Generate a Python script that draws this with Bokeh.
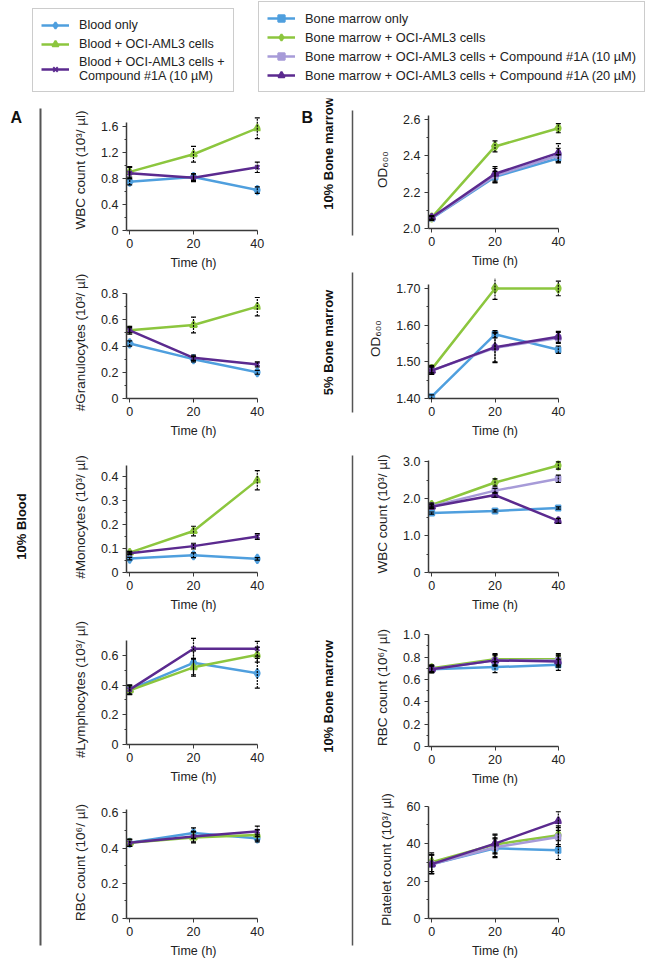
import numpy as np
from bokeh.plotting import figure
from bokeh.models import Range1d, FixedTicker, Whisker, TeeHead, ColumnDataSource, Legend, LegendItem
from bokeh.layouts import row, column
from bokeh.embed import file_html
from bokeh.resources import INLINE
from bokeh.core.properties import value

FONT = "Liberation Sans"

# ---------------- data ----------------
time_h = [0, 20, 40]
x_ticks = [0, 20, 40]
time_label = "Time (h)"

# Panel A (10% blood)
a_names = ["Blood only", "Blood + OCI-AML3 cells", "Blood + OCI-AML3 cells +\nCompound #1A (10 µM)"]
a_colors = ["#4f9fde", "#8cc63e", "#5b2a8f"]
a_markers = ["diamond", "triangle", "x"]

a_wbc_blood = [0.75, 0.82, 0.62]
a_wbc_oci = [0.90, 1.17, 1.57]
a_wbc_cmpd = [0.88, 0.81, 0.97]
a_wbc_err_blood = [0.05, 0.05, 0.05]
a_wbc_err_oci = [0.08, 0.12, 0.16]
a_wbc_err_cmpd = [0.09, 0.06, 0.08]

a_gran_blood = [0.42, 0.30, 0.20]
a_gran_oci = [0.52, 0.56, 0.70]
a_gran_cmpd = [0.52, 0.31, 0.26]
a_gran_err_blood = [0.02, 0.02, 0.015]
a_gran_err_oci = [0.02, 0.06, 0.07]
a_gran_err_cmpd = [0.03, 0.02, 0.02]

a_mono_blood = [0.058, 0.072, 0.057]
a_mono_oci = [0.083, 0.173, 0.385]
a_mono_cmpd = [0.080, 0.110, 0.150]
a_mono_err_blood = [0.005, 0.01, 0.005]
a_mono_err_oci = [0.005, 0.02, 0.04]
a_mono_err_cmpd = [0.005, 0.012, 0.012]

a_lymph_blood = [0.37, 0.55, 0.48]
a_lymph_oci = [0.365, 0.52, 0.605]
a_lymph_cmpd = [0.37, 0.645, 0.645]
a_lymph_err_blood = [0.03, 0.08, 0.10]
a_lymph_err_oci = [0.03, 0.06, 0.05]
a_lymph_err_cmpd = [0.03, 0.07, 0.05]

a_rbc_blood = [0.43, 0.485, 0.455]
a_rbc_oci = [0.43, 0.46, 0.475]
a_rbc_cmpd = [0.43, 0.465, 0.495]
a_rbc_err_blood = [0.02, 0.03, 0.02]
a_rbc_err_oci = [0.02, 0.03, 0.03]
a_rbc_err_cmpd = [0.02, 0.03, 0.03]

# Panel B (bone marrow)
b_names = ["Bone marrow only", "Bone marrow + OCI-AML3 cells",
           "Bone marrow + OCI-AML3 cells + Compound #1A (10 µM)",
           "Bone marrow + OCI-AML3 cells + Compound #1A (20 µM)"]
b_colors = ["#4f9fde", "#8cc63e", "#a79bd8", "#5b2a8f"]
b_markers = ["square", "diamond", "square", "triangle"]

b_od10_bm = [2.055, 2.283, 2.385]
b_od10_oci = [2.06, 2.45, 2.55]
b_od10_c10 = [2.058, 2.29, 2.40]
b_od10_c20 = [2.06, 2.30, 2.415]
b_od10_err_bm = [0.01, 0.03, 0.02]
b_od10_err_oci = [0.01, 0.03, 0.025]
b_od10_err_c10 = [0.01, 0.04, 0.04]
b_od10_err_c20 = [0.01, 0.04, 0.05]

b_od5_bm = [1.405, 1.575, 1.533]
b_od5_oci = [1.48, 1.70, 1.70]
b_od5_c10 = [1.476, 1.538, 1.565]
b_od5_c20 = [1.476, 1.54, 1.568]
b_od5_err_bm = [0.005, 0.01, 0.01]
b_od5_err_oci = [0.01, 0.03, 0.02]
b_od5_err_c10 = [0.01, 0.04, 0.015]
b_od5_err_c20 = [0.01, 0.04, 0.015]

b_wbc_bm = [1.61, 1.67, 1.75]
b_wbc_oci = [1.83, 2.44, 2.90]
b_wbc_c10 = [1.80, 2.22, 2.54]
b_wbc_c20 = [1.78, 2.10, 1.40]
b_wbc_err_bm = [0.03, 0.03, 0.03]
b_wbc_err_oci = [0.05, 0.10, 0.10]
b_wbc_err_c10 = [0.05, 0.06, 0.10]
b_wbc_err_c20 = [0.05, 0.06, 0.07]

b_rbc_bm = [0.69, 0.71, 0.73]
b_rbc_oci = [0.70, 0.78, 0.78]
b_rbc_c10 = [0.69, 0.77, 0.77]
b_rbc_c20 = [0.69, 0.77, 0.76]
b_rbc_err_bm = [0.03, 0.05, 0.05]
b_rbc_err_oci = [0.03, 0.05, 0.05]
b_rbc_err_c10 = [0.03, 0.05, 0.05]
b_rbc_err_c20 = [0.03, 0.05, 0.05]

b_plt_bm = [29, 37.5, 36.5]
b_plt_oci = [30, 39.5, 44.5]
b_plt_c10 = [29, 38, 43.5]
b_plt_c20 = [29, 40, 52]
b_plt_err_bm = [5, 5, 5]
b_plt_err_oci = [5, 5, 5]
b_plt_err_c10 = [5, 5, 5]
b_plt_err_c20 = [5, 5, 5]

# tick values / labels
a_wbc_ticks = [0, 0.4, 0.8, 1.2, 1.6]
a_wbc_labels = ["0", "0.4", "0.8", "1.2", "1.6"]
a_gran_ticks = [0, 0.2, 0.4, 0.6, 0.8]
a_gran_labels = ["0", "0.2", "0.4", "0.6", "0.8"]
a_mono_ticks = [0, 0.1, 0.2, 0.3, 0.4]
a_mono_labels = ["0", "0.1", "0.2", "0.3", "0.4"]
a_lymph_ticks = [0, 0.2, 0.4, 0.6]
a_lymph_labels = ["0", "0.2", "0.4", "0.6"]
a_rbc_ticks = [0, 0.2, 0.4, 0.6]
a_rbc_labels = ["0", "0.2", "0.4", "0.6"]
b_od10_ticks = [2.0, 2.2, 2.4, 2.6]
b_od10_labels = ["2.0", "2.2", "2.4", "2.6"]
b_od5_ticks = [1.40, 1.50, 1.60, 1.70]
b_od5_labels = ["1.40", "1.50", "1.60", "1.70"]
b_wbc_ticks = [0, 1, 2, 3]
b_wbc_labels = ["0", "1.0", "2.0", "3.0"]
b_rbc_ticks = [0, 0.2, 0.4, 0.6, 0.8, 1.0]
b_rbc_labels = ["0", "0.2", "0.4", "0.6", "0.8", "1.0"]
b_plt_ticks = [0, 20, 40, 60]
b_plt_labels = ["0", "20", "40", "60"]

# ---------------- helpers ----------------
AXIS_COLOR = "#3a3a3a"
MARKER_SIZE = {"diamond": 9, "triangle": 7, "x": 6, "square": 5}


def minor_of(ticks):
    return [(a + b) / 2 for a, b in zip(ticks[:-1], ticks[1:])]


def make_plot(ylabel, ys, errs, colors, markers, ticks, labels, y0, y1, axis_top,
              width, height, mbl, mbr, mbt, mbb):
    p = figure(width=width, height=height, x_range=Range1d(-1, 41), y_range=Range1d(y0, y1),
               output_backend="svg", toolbar_location=None,
               min_border_left=mbl, min_border_right=mbr, min_border_top=mbt, min_border_bottom=mbb)
    p.outline_line_color = None
    p.xgrid.visible = False
    p.ygrid.visible = False
    for y, e, c, m in zip(ys, errs, colors, markers):
        p.line(time_h, y, line_color=c, line_width=2.5)
        p.scatter(time_h, y, marker=m, size=MARKER_SIZE[m], fill_color=c, line_color=c, line_width=2)
        src = ColumnDataSource(dict(x=time_h, upper=[a + b for a, b in zip(y, e)],
                                    lower=[a - b for a, b in zip(y, e)]))
        w = Whisker(base="x", upper="upper", lower="lower", source=src, level="overlay",
                    line_color="black", line_width=1.2, line_dash="2 1",
                    upper_head=TeeHead(size=5, line_color="black", line_width=1.2),
                    lower_head=TeeHead(size=5, line_color="black", line_width=1.2))
        p.add_layout(w)
    for ax in (p.xaxis[0], p.yaxis[0]):
        ax.axis_line_color = AXIS_COLOR
        ax.axis_line_width = 1.5
        ax.major_tick_line_color = AXIS_COLOR
        ax.minor_tick_line_color = AXIS_COLOR
        ax.major_tick_out = 4
        ax.major_tick_in = 0
        ax.minor_tick_out = 2
        ax.minor_tick_in = 0
        ax.major_label_text_font = FONT
        ax.major_label_text_font_size = "12.5px"
        ax.major_label_text_color = "#222222"
        ax.major_label_standoff = 4
        ax.axis_label_text_font = FONT
        ax.axis_label_text_font_style = "normal"
        ax.axis_label_text_color = "#222222"
    xa = p.xaxis[0]
    xa.ticker = FixedTicker(ticks=x_ticks)
    xa.bounds = (-1, 40)
    xa.axis_label = time_label
    xa.axis_label_text_font_size = "12.5px"
    xa.axis_label_standoff = 5
    ya = p.yaxis[0]
    ya.ticker = FixedTicker(ticks=ticks, minor_ticks=minor_of(ticks))
    ya.major_label_overrides = {t: l for t, l in zip(ticks, labels)}
    ya.bounds = (y0, axis_top)
    ya.axis_label = ylabel
    ya.axis_label_text_font_size = "13.5px"
    ya.axis_label_standoff = 10
    return p


def decor(width, height, texts, lines):
    p = figure(width=width, height=height, x_range=Range1d(0, width), y_range=Range1d(0, height),
               min_border=0, x_axis_location=None, y_axis_location=None,
               output_backend="svg", toolbar_location=None)
    p.outline_line_color = None
    p.xgrid.visible = False
    p.ygrid.visible = False
    for (x, y, t, size, rot, align) in texts:
        p.text(x=[x], y=[height - y], text=[t], angle=rot, text_font=value(FONT),
               text_font_style="bold", text_font_size=size, text_align=align,
               text_baseline="middle", text_color="#111111")
    for (x, ya, yb, w) in lines:
        p.line([x, x], [height - ya, height - yb], line_color="#555555", line_width=w)
    return p


# ---------------- panel A ----------------
AW, A_MBL, A_MBR = 240, 76, 30
pa1 = make_plot("WBC count (10³/ µl)", [a_wbc_blood, a_wbc_oci, a_wbc_cmpd],
                [a_wbc_err_blood, a_wbc_err_oci, a_wbc_err_cmpd], a_colors, a_markers,
                a_wbc_ticks, a_wbc_labels, 0, 1.857, 1.66, AW, 174, A_MBL, A_MBR, 11, 40)
pa2 = make_plot("#Granulocytes (10³/ µl)", [a_gran_blood, a_gran_oci, a_gran_cmpd],
                [a_gran_err_blood, a_gran_err_oci, a_gran_err_cmpd], a_colors, a_markers,
                a_gran_ticks, a_gran_labels, 0, 0.854, 0.80, AW, 168, A_MBL, A_MBR, 14, 39)
pa3 = make_plot("#Monocytes (10³/ µl)", [a_mono_blood, a_mono_oci, a_mono_cmpd],
                [a_mono_err_blood, a_mono_err_oci, a_mono_err_cmpd], a_colors, a_markers,
                a_mono_ticks, a_mono_labels, 0, 0.463, 0.445, AW, 174, A_MBL, A_MBR, 21, 41)
pa4 = make_plot("#Lymphocytes (10³/ µl)", [a_lymph_blood, a_lymph_oci, a_lymph_cmpd],
                [a_lymph_err_blood, a_lymph_err_oci, a_lymph_err_cmpd], a_colors, a_markers,
                a_lymph_ticks, a_lymph_labels, 0, 0.741, 0.70, AW, 172, A_MBL, A_MBR, 20, 40)
pa5 = make_plot("RBC count (10⁶/ µl)", [a_rbc_blood, a_rbc_oci, a_rbc_cmpd],
                [a_rbc_err_blood, a_rbc_err_oci, a_rbc_err_cmpd], a_colors, a_markers,
                a_rbc_ticks, a_rbc_labels, 0, 0.636, 0.62, AW, 174, A_MBL, A_MBR, 20, 42)

# ---------------- panel B ----------------
BW, B_MBL, B_MBR = 272, 62, 76
pb1 = make_plot("OD₆₀₀", [b_od10_bm, b_od10_oci, b_od10_c10, b_od10_c20],
                [b_od10_err_bm, b_od10_err_oci, b_od10_err_c10, b_od10_err_c20], b_colors, b_markers,
                b_od10_ticks, b_od10_labels, 2.0, 2.647, 2.62, BW, 172, B_MBL, B_MBR, 12, 41)
pb2 = make_plot("OD₆₀₀", [b_od5_bm, b_od5_oci, b_od5_c10, b_od5_c20],
                [b_od5_err_bm, b_od5_err_oci, b_od5_err_c10, b_od5_err_c20], b_colors, b_markers,
                b_od5_ticks, b_od5_labels, 1.40, 1.727, 1.712, BW, 170, B_MBL, B_MBR, 8, 41)
pb3 = make_plot("WBC count (10³/ µl)", [b_wbc_bm, b_wbc_oci, b_wbc_c10, b_wbc_c20],
                [b_wbc_err_bm, b_wbc_err_oci, b_wbc_err_c10, b_wbc_err_c20], b_colors, b_markers,
                b_wbc_ticks, b_wbc_labels, 0, 3.172, 3.05, BW, 174, B_MBL, B_MBR, 15, 41)
pb4 = make_plot("RBC count (10⁶/ µl)", [b_rbc_bm, b_rbc_oci, b_rbc_c10, b_rbc_c20],
                [b_rbc_err_bm, b_rbc_err_oci, b_rbc_err_c10, b_rbc_err_c20], b_colors, b_markers,
                b_rbc_ticks, b_rbc_labels, 0, 1.055, 1.0, BW, 174, B_MBL, B_MBR, 14, 40)
pb5 = make_plot("Platelet count (10³/ µl)", [b_plt_bm, b_plt_oci, b_plt_c10, b_plt_c20],
                [b_plt_err_bm, b_plt_err_oci, b_plt_err_c10, b_plt_err_c20], b_colors, b_markers,
                b_plt_ticks, b_plt_labels, 0, 63.0, 60, BW, 172, B_MBL, B_MBR, 12, 41)

# ---------------- decorations ----------------
BODY_H = 862
deco_a = decor(50, BODY_H,
               [(10, 19, "A", "16px", 0, "left"), (21, 428, "10% Blood", "13px", np.pi / 2, "center")],
               [(40, 10, 847, 2)])
deco_b = decor(75, BODY_H,
               [(11, 19, "B", "16px", 0, "left"),
                (38, 55, "10% Bone marrow", "13px", np.pi / 2, "center"),
                (38, 244, "5% Bone marrow", "13px", np.pi / 2, "center"),
                (38, 598, "10% Bone marrow", "13px", np.pi / 2, "center")],
               [(62, 12, 137, 1.5), (62, 174, 314, 1.5), (62, 357, 847, 1.5)])

# ---------------- legends ----------------
LW, LH = 645, 98
pl = figure(width=LW, height=LH, x_range=Range1d(0, LW), y_range=Range1d(0, LH),
            min_border=0, x_axis_location=None, y_axis_location=None,
            output_backend="svg", toolbar_location=None)
pl.outline_line_color = None
pl.xgrid.visible = False
pl.ygrid.visible = False


def legend_items(names, colors, markers, ys):
    items = []
    for n, c, m, y in zip(names, colors, markers, ys):
        r1 = pl.line(time_h, y, line_color=c, line_width=2.5, visible=False)
        r2 = pl.scatter(time_h, y, marker=m, size=MARKER_SIZE[m], fill_color=c, line_color=c,
                        line_width=2, visible=False)
        items.append(LegendItem(label=n, renderers=[r1, r2]))
    return items


def style_legend(lg, fsize):
    lg.label_text_font = FONT
    lg.label_text_font_size = fsize
    lg.label_text_color = "#222222"
    lg.label_height = 16
    lg.glyph_height = 16
    lg.glyph_width = 28
    lg.label_standoff = 10
    lg.spacing = 3
    lg.padding = 8
    lg.margin = 0
    lg.border_line_color = "#999999"
    lg.border_line_width = 1.5
    lg.background_fill_color = "white"
    lg.background_fill_alpha = 1.0


leg_a = Legend(items=legend_items(a_names, a_colors, a_markers, [a_wbc_blood, a_wbc_oci, a_wbc_cmpd]),
               location=(32, 6))
style_legend(leg_a, "12.6px")
leg_b = Legend(items=legend_items(b_names, b_colors, b_markers, [b_od10_bm, b_od10_oci, b_od10_c10, b_od10_c20]),
               location=(258, 6))
style_legend(leg_b, "12.8px")
pl.add_layout(leg_a)
pl.add_layout(leg_b)

layout = column(pl, row(deco_a, column(pa1, pa2, pa3, pa4, pa5), deco_b, column(pb1, pb2, pb3, pb4, pb5)))

open("out.html", "w").write(file_html(layout, INLINE))
